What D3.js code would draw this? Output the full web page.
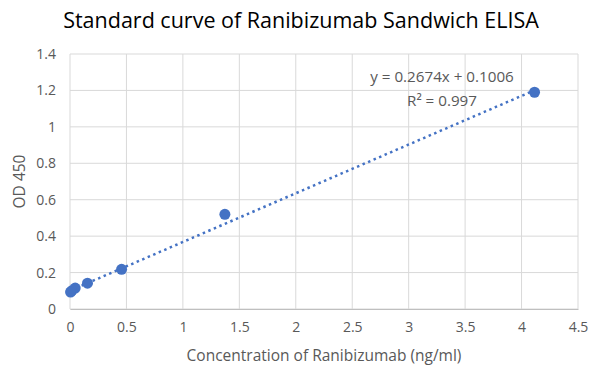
<!DOCTYPE html>
<html>
<head>
<meta charset="utf-8">
<script src="https://cdn.jsdelivr.net/npm/d3@7"></script>
<style>
  body { margin: 0; background: #fff; }
  svg text { font-family: "Open Sans", "Noto Sans", sans-serif; }
</style>
</head>
<body>
<svg id="chart"></svg>
<script>
// standard curve points (3-fold dilution series)
const concentration = [4.115, 1.372, 0.457, 0.155, 0.046, 0.015, 0.005]
const od450 = [1.19, 0.52, 0.218, 0.142, 0.115, 0.1, 0.093]
const xTicks = [0, 0.5, 1, 1.5, 2, 2.5, 3, 3.5, 4, 4.5]
const yTicks = [0, 0.2, 0.4, 0.6, 0.8, 1, 1.2, 1.4]
const slope = 0.2674
const intercept = 0.1006
const equationLines = ['y = 0.2674x + 0.1006', 'R² = 0.997']

const width = 603
const height = 373
const margin = { top: 54, right: 25, bottom: 64, left: 70 }
const _w = width - margin.left - margin.right
const _h = height - margin.top - margin.bottom

const svg = d3.select('#chart').attr('width', width).attr('height', height)
svg.append('rect').attr('width', width).attr('height', height).attr('fill', '#fff')

const x = d3.scaleLinear().domain([0, 4.5]).range([0, _w])
const y = d3.scaleLinear().domain([0, 1.4]).range([_h, 0])

const g = svg.append('g').attr('transform', `translate(${margin.left},${margin.top})`)

// gridlines
g.append('g')
  .selectAll('line')
  .data(xTicks)
  .join('line')
  .attr('x1', (d) => x(d))
  .attr('x2', (d) => x(d))
  .attr('y1', 0)
  .attr('y2', _h)
  .attr('stroke', '#d9d9d9')
g.append('g')
  .selectAll('line')
  .data(yTicks)
  .join('line')
  .attr('x1', 0)
  .attr('x2', _w)
  .attr('y1', (d) => y(d))
  .attr('y2', (d) => y(d))
  .attr('stroke', '#d9d9d9')

// axes
const xAxis = g.append('g')
  .attr('transform', `translate(0,${_h})`)
  .call(d3.axisBottom(x).tickValues(xTicks).tickSize(0).tickPadding(13).tickFormat((d) => d))
const yAxis = g.append('g')
  .call(d3.axisLeft(y).tickValues(yTicks).tickSize(0).tickPadding(14).tickFormat((d) => d))
;[xAxis, yAxis].forEach((a) => {
  a.select('.domain').attr('stroke', '#bfbfbf')
  a.selectAll('text').attr('fill', '#595959').attr('font-size', 14)
})
yAxis.select('.domain').remove()

// trendline
g.append('line')
  .attr('x1', x(d3.min(concentration)))
  .attr('y1', y(slope * d3.min(concentration) + intercept))
  .attr('x2', x(d3.max(concentration)))
  .attr('y2', y(slope * d3.max(concentration) + intercept))
  .attr('stroke', '#4472c4')
  .attr('stroke-width', 2.5)
  .attr('stroke-dasharray', '2.5 3.5')

// points
g.append('g')
  .selectAll('circle')
  .data(concentration)
  .join('circle')
  .attr('cx', (d) => x(d))
  .attr('cy', (d, i) => y(od450[i]))
  .attr('r', 5.5)
  .attr('fill', '#4472c4')

// equation
g.append('g')
  .selectAll('text')
  .data(equationLines)
  .join('text')
  .attr('x', 372)
  .attr('y', (d, i) => 28 + i * 24)
  .attr('text-anchor', 'middle')
  .attr('fill', '#595959')
  .attr('font-size', 15.2)
  .text((d) => d)

// titles
svg.append('text')
  .attr('x', 301)
  .attr('y', 28)
  .attr('text-anchor', 'middle')
  .attr('font-size', 21.5)
  .attr('fill', '#000')
  .text('Standard curve of Ranibizumab Sandwich ELISA')
svg.append('text')
  .attr('x', margin.left + _w / 2)
  .attr('y', 361)
  .attr('text-anchor', 'middle')
  .attr('font-size', 15.5)
  .attr('fill', '#595959')
  .text('Concentration of Ranibizumab (ng/ml)')
svg.append('text')
  .attr('transform', `translate(25,${margin.top + _h / 2}) rotate(-90)`)
  .attr('text-anchor', 'middle')
  .attr('font-size', 15.5)
  .attr('fill', '#595959')
  .text('OD 450')
</script>
</body>
</html>
